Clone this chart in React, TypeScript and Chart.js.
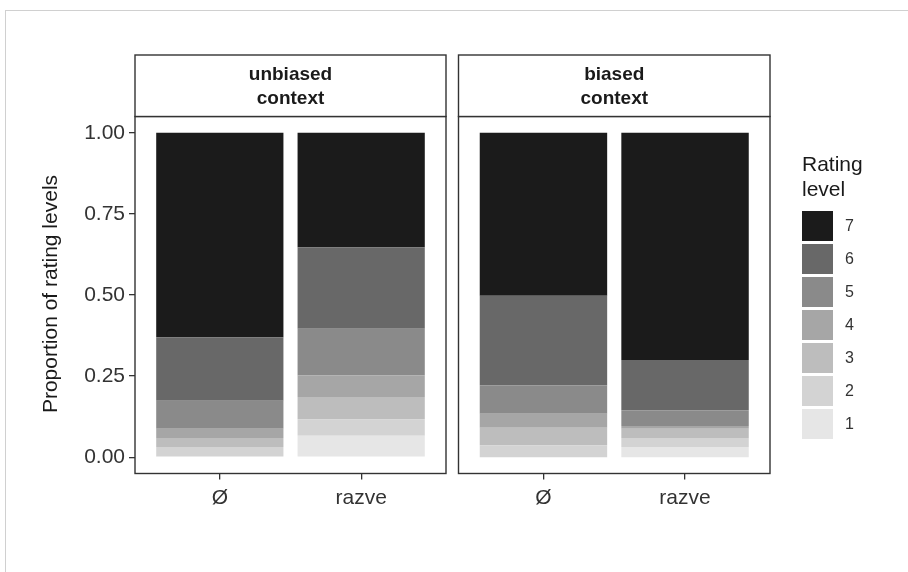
import React, { useEffect, useRef } from 'react';
import { Chart, registerables } from 'chart.js';

Chart.register(...registerables);

// ---------- data ----------
const categories = ['Ø', 'razve'];
const categoryPositions = [1, 2];
const levels = ['1', '2', '3', '4', '5', '6', '7'];
const levelColors = ['#e6e6e6', '#d3d3d3', '#bdbdbd', '#a6a6a6', '#8a8a8a', '#686868', '#1b1b1b'];
const yTicks = [0, 0.25, 0.5, 0.75, 1];
const stripUnbiased = ['unbiased', 'context'];
const stripBiased = ['biased', 'context'];
const legendTitle = ['Rating', 'level'];
const yTitle = 'Proportion of rating levels';

// proportions per rating level 1..7
const unbiasedO = [0, 0.032, 0.027, 0.029, 0.086, 0.196, 0.63];
const unbiasedRazve = [0.066, 0.051, 0.069, 0.066, 0.144, 0.251, 0.353];
const biasedO = [0, 0.037, 0.054, 0.043, 0.088, 0.276, 0.502];
const biasedRazve = [0.032, 0.027, 0.029, 0.008, 0.049, 0.155, 0.7];

const FONT = "'Liberation Sans', Arial, sans-serif";

type PanelCfg = {
  canvasLeft: number;
  canvasWidth: number;
  plotLeft: number;
  plotRight: number;
  showY: boolean;
  strip: string[];
  first: number[];
  second: number[];
  drawLegend: boolean;
};

const PLOT_TOP = 116.5;
const PLOT_BOTTOM = 473.5;
const STRIP_TOP = 55;
const H = 572;

function makeChart(canvas: HTMLCanvasElement, cfg: PanelCfg) {
  const datasets = levels.map((lv, i) => ({
    label: lv,
    data: categoryPositions.map((x, j) => ({ x, y: j === 0 ? cfg.first[i] : cfg.second[i] })),
    backgroundColor: levelColors[i],
    borderWidth: 0,
    categoryPercentage: 1,
    barPercentage: 0.9,
  }));

  const decor = {
    id: 'decor' + cfg.canvasLeft,
    afterDraw(chart: any) {
      const ctx = chart.ctx as CanvasRenderingContext2D;
      const a = chart.chartArea;
      ctx.save();
      // panel border
      ctx.strokeStyle = '#333333';
      ctx.lineWidth = 1.4;
      ctx.strokeRect(a.left, a.top, a.right - a.left, a.bottom - a.top);
      // strip
      ctx.fillStyle = '#ffffff';
      ctx.fillRect(a.left, STRIP_TOP, a.right - a.left, a.top - STRIP_TOP);
      ctx.strokeRect(a.left, STRIP_TOP, a.right - a.left, a.top - STRIP_TOP);
      ctx.fillStyle = '#1a1a1a';
      ctx.font = `bold 19px ${FONT}`;
      ctx.textAlign = 'center';
      ctx.textBaseline = 'middle';
      const cx = (a.left + a.right) / 2;
      ctx.fillText(cfg.strip[0], cx, 75);
      ctx.fillText(cfg.strip[1], cx, 99);

      if (cfg.showY) {
        ctx.save();
        ctx.translate(51, 294);
        ctx.rotate(-Math.PI / 2);
        ctx.font = `21px ${FONT}`;
        ctx.fillStyle = '#1a1a1a';
        ctx.textAlign = 'center';
        ctx.textBaseline = 'middle';
        ctx.fillText(yTitle, 0, 0);
        ctx.restore();
      }

      if (cfg.drawLegend) {
        const ox = -cfg.canvasLeft;
        ctx.font = `21px ${FONT}`;
        ctx.fillStyle = '#1a1a1a';
        ctx.textAlign = 'left';
        ctx.textBaseline = 'alphabetic';
        ctx.fillText(legendTitle[0], 802 + ox, 171);
        ctx.fillText(legendTitle[1], 802 + ox, 196);
        const keyTop = 211;
        const pitch = 33;
        const order = [...levels].reverse();
        order.forEach((lv, k) => {
          const idx = levels.indexOf(lv);
          const y = keyTop + k * pitch;
          ctx.fillStyle = levelColors[idx];
          ctx.fillRect(802 + ox, y, 31, 30);
          ctx.fillStyle = '#333333';
          ctx.font = `16px ${FONT}`;
          ctx.textBaseline = 'middle';
          ctx.fillText(lv, 845 + ox, y + 16);
        });
      }
      ctx.restore();
    },
  };

  return new Chart(canvas, {
    type: 'bar',
    data: { datasets: datasets as any },
    options: {
      animation: false,
      responsive: false,
      maintainAspectRatio: false,
      layout: {
        padding: {
          left: 0,
          right: cfg.canvasWidth - cfg.plotRight,
          top: PLOT_TOP,
          bottom: 0,
        },
      },
      plugins: {
        legend: { display: false },
        tooltip: { enabled: false },
        title: { display: false },
      },
      scales: {
        x: {
          type: 'linear',
          stacked: true,
          min: 0.4,
          max: 2.6,
          offset: false,
          afterBuildTicks: (s: any) => {
            s.ticks = categoryPositions.map((v) => ({ value: v }));
          },
          afterFit: (s: any) => {
            s.height = H - PLOT_BOTTOM;
          },
          grid: {
            display: true,
            offset: false,
            drawOnChartArea: false,
            drawTicks: true,
            tickLength: 6,
            color: '#333333',
            lineWidth: 1.3,
          },
          border: { display: false },
          ticks: {
            autoSkip: false,
            maxRotation: 0,
            padding: 6,
            color: '#333333',
            font: { family: FONT, size: 21 },
            callback: (v: any) => {
              const i = categoryPositions.indexOf(Number(v));
              return i >= 0 ? categories[i] : '';
            },
          },
        },
        y: {
          type: 'linear',
          stacked: true,
          display: true,
          min: -0.05,
          max: 1.05,
          afterBuildTicks: (s: any) => {
            s.ticks = yTicks.map((v) => ({ value: v }));
          },
          afterFit: (s: any) => {
            s.width = cfg.plotLeft;
          },
          grid: {
            display: cfg.showY,
            offset: false,
            drawOnChartArea: false,
            drawTicks: true,
            tickLength: 6,
            color: '#333333',
            lineWidth: 1.3,
          },
          border: { display: false },
          ticks: {
            display: cfg.showY,
            padding: 4,
            color: '#333333',
            font: { family: FONT, size: 21 },
            callback: (v: any) => Number(v).toFixed(2),
          },
        },
      },
    },
    plugins: [decor],
  });
}

export default function App() {
  const leftRef = useRef<HTMLCanvasElement>(null);
  const rightRef = useRef<HTMLCanvasElement>(null);

  useEffect(() => {
    const c1 = makeChart(leftRef.current!, {
      canvasLeft: 0,
      canvasWidth: 452,
      plotLeft: 135,
      plotRight: 446,
      showY: true,
      strip: stripUnbiased,
      first: unbiasedO,
      second: unbiasedRazve,
      drawLegend: false,
    });
    const c2 = makeChart(rightRef.current!, {
      canvasLeft: 452,
      canvasWidth: 456,
      plotLeft: 6.5,
      plotRight: 318,
      showY: false,
      strip: stripBiased,
      first: biasedO,
      second: biasedRazve,
      drawLegend: true,
    });
    return () => {
      c1.destroy();
      c2.destroy();
    };
  }, []);

  return (
    <div style={{ position: 'fixed', left: 0, top: 0, width: 908, height: 572, background: '#ffffff', overflow: 'hidden' }}>
      <div
        style={{
          position: 'absolute',
          left: 5,
          top: 10,
          width: 910,
          height: 580,
          borderTop: '1px solid #d0d0d0',
          borderLeft: '1px solid #d0d0d0',
        }}
      />
      <canvas ref={leftRef} width={452} height={572} style={{ position: 'absolute', left: 0, top: 0 }} />
      <canvas ref={rightRef} width={456} height={572} style={{ position: 'absolute', left: 452, top: 0 }} />
    </div>
  );
}
